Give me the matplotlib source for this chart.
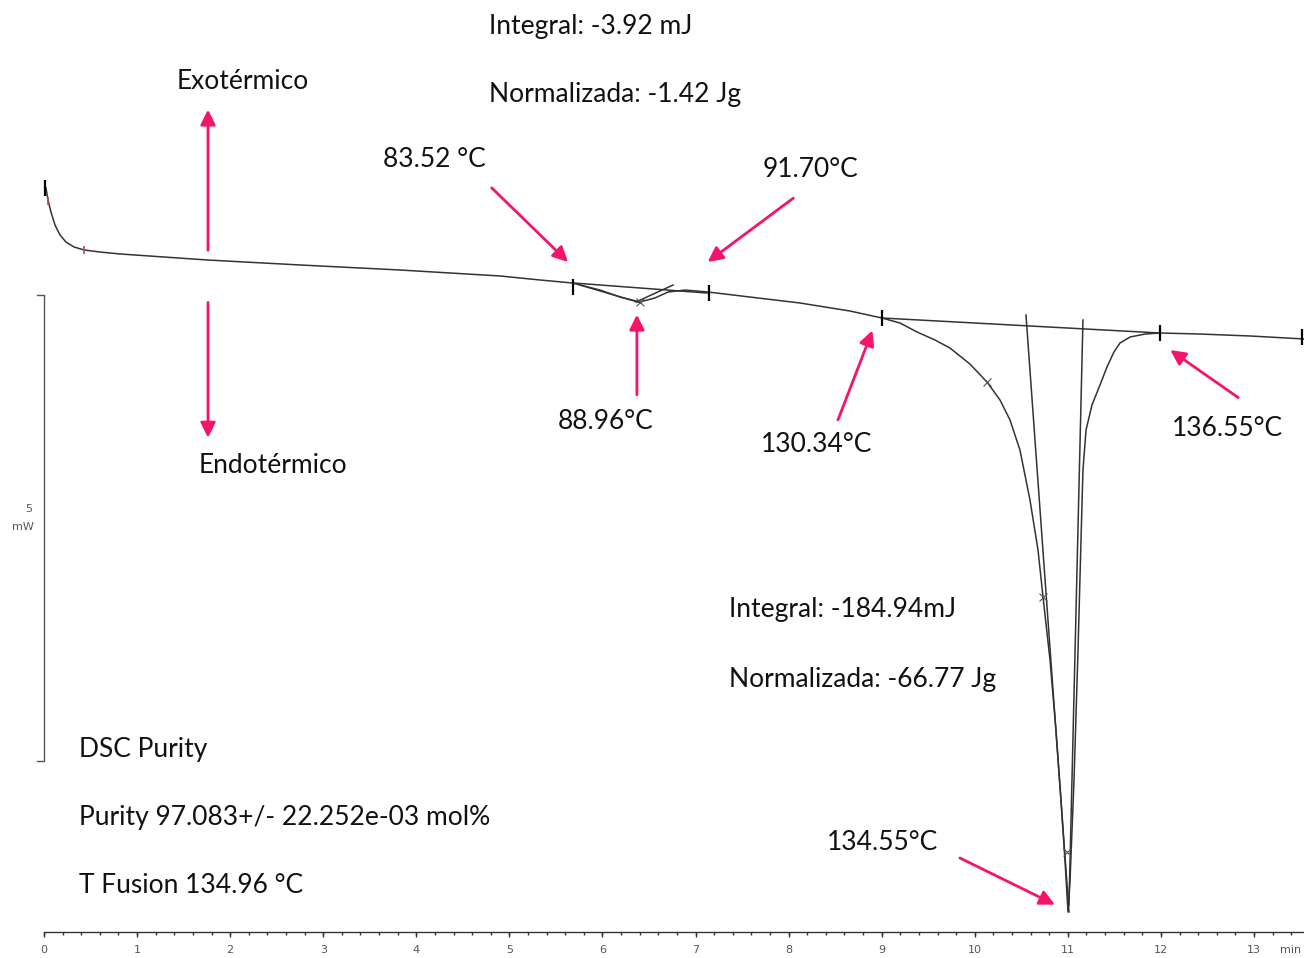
import matplotlib
matplotlib.use("Agg")
import matplotlib.pyplot as plt
import numpy as np

# DSC curve, time (min) vs heat flow (mW, arbitrary zero)
t_min = [0.021, 0.043, 0.075, 0.118, 0.172, 0.236, 0.322, 0.430, 0.602, 0.817,
         1.762, 2.750, 3.825, 4.899, 5.328, 5.673, 5.974, 6.188, 6.403, 6.564,
         6.704, 6.887, 7.134, 7.585, 8.122, 8.659, 9.003, 9.197, 9.379, 9.572,
         9.733, 9.948, 10.131, 10.271, 10.378, 10.485, 10.593, 10.679, 10.733, 10.808,
         10.872, 10.926, 10.969, 11.001, 11.023, 11.066, 11.109, 11.141, 11.162, 11.195,
         11.259, 11.345, 11.420, 11.495, 11.560, 11.668, 11.829, 11.990, 12.419, 12.957,
         13.537]
heat_mw = [0.719, 0.590, 0.461, 0.322, 0.215, 0.139, 0.086, 0.054, 0.032, 0.011,
           -0.054, -0.107, -0.161, -0.225, -0.268, -0.300, -0.376, -0.451, -0.504, -0.461,
           -0.397, -0.376, -0.397, -0.451, -0.515, -0.601, -0.676, -0.730, -0.826, -0.912,
           -0.998, -1.170, -1.363, -1.556, -1.770, -2.092, -2.629, -3.165, -3.670, -4.345,
           -5.097, -5.848, -6.491, -7.049, -6.706, -5.633, -4.238, -3.058, -2.307, -1.878,
           -1.609, -1.395, -1.202, -1.041, -0.944, -0.880, -0.848, -0.837, -0.848, -0.869,
           -0.901]

# construction lines (baselines / tangents)
lines = [
    ([5.683, 7.123], [-0.300, -0.408]),
    ([5.758, 6.414], [-0.322, -0.515]),
    ([6.360, 6.758], [-0.504, -0.322]),
    ([9.003, 11.990], [-0.676, -0.837]),
    ([10.550, 11.012], [-0.644, -7.049]),
    ([11.162, 11.012], [-0.697, -6.974]),
]
limit_t = [0.015, 5.683, 7.145, 9.003, 11.990, 13.515]
limit_y = [0.72, -0.343, -0.408, -0.676, -0.837, -0.880]
cross_t = [6.403, 10.131, 10.733, 10.991]
cross_y = [-0.504, -1.363, -3.670, -6.406]

# annotations: text, text pos, arrow tail, arrow head
pink = "#f5136b"
labels = [
    ("83.52 °C", (4.19, 1.02), (4.81, 0.72), (5.63, -0.075)),
    ("91.70°C", (8.23, 0.92), (8.05, 0.61), (7.13, -0.075)),
    ("88.96°C", (6.03, -1.79), (6.37, -1.50), (6.37, -0.64)),
    ("130.34°C", (8.30, -2.03), (8.53, -1.77), (8.90, -0.81)),
    ("136.55°C", (12.71, -1.86), (12.83, -1.53), (12.10, -1.02)),
    ("134.55°C", (9.01, -6.30), (9.84, -6.47), (10.86, -6.97)),
]
side_arrows = [
    ("Exotérmico", (2.13, 1.86), (1.762, 0.05), (1.762, 1.56)),
    ("Endotérmico", (2.46, -2.26), (1.762, -0.51), (1.762, -1.96)),
]
notes = [
    ("Integral: -3.92 mJ", (4.78, 2.45)),
    ("Normalizada: -1.42 Jg", (4.78, 1.72)),
    ("Integral: -184.94mJ", (7.36, -3.80)),
    ("Normalizada: -66.77 Jg", (7.36, -4.55)),
    ("DSC Purity", (0.376, -5.31)),
    ("Purity 97.083+/- 22.252e-03 mol%", (0.376, -6.04)),
    ("T Fusion 134.96 °C", (0.376, -6.77)),
]

fig = plt.figure(figsize=(13.04, 9.58), dpi=100)
ax = fig.add_axes([0, 0, 1, 1])
ax.set_xlim(-44 / 93.08, 1260 / 93.08)
ax.set_ylim((255 - 958) / 93.2, 255 / 93.2)
ax.axis("off")

ax.plot(t_min, heat_mw, color="#333333", lw=1.1)
for lx, ly in lines:
    ax.plot(lx, ly, color="#333333", lw=1.1)
ax.plot(limit_t, limit_y, ls="none", marker="|", ms=11, mew=1.6, color="black")
ax.plot(cross_t, cross_y, ls="none", marker="x", ms=6, mew=0.8, color="#555555")
ax.plot([0.04, 0.43], [0.58, 0.05], ls="none", marker="|", ms=6, mew=1.2, color="#b05050")

# time axis at the bottom
y_ax = -7.264
ax.plot([0, 13.537], [y_ax, y_ax], color="#333333", lw=1)
minor = np.arange(0, 13.5, 0.2)
ax.vlines(minor, y_ax - 0.035, y_ax, color="#333333", lw=1)
major = np.arange(0, 14)
ax.vlines(major, y_ax - 0.055, y_ax, color="#333333", lw=1)
for m in major:
    ax.text(m, -7.46, str(m), ha="center", va="center", fontsize=8, color="#555555")
ax.text(13.39, -7.46, "min", ha="center", va="center", fontsize=8, color="#555555")

# 5 mW scale bar
ax.plot([-0.075, 0, 0, -0.075], [-0.429, -0.429, -5.429, -5.429], color="#555555", lw=1)
ax.text(-0.13, -2.73, "5", ha="right", va="center", fontsize=8, color="#555555")
ax.text(-0.23, -2.92, "mW", ha="center", va="center", fontsize=8, color="#555555")

font = dict(family=["Lato", "DejaVu Sans"], fontsize=19, color="#111111")
for txt, (tx, ty), tail, head in labels + side_arrows:
    ax.text(tx, ty, txt, ha="center", va="center", **font)
    ax.annotate("", xy=head, xytext=tail,
                arrowprops=dict(arrowstyle="-|>,head_length=0.9,head_width=0.45",
                                color=pink, lw=2, shrinkA=0, shrinkB=0))
for txt, (tx, ty) in notes:
    ax.text(tx, ty, txt, ha="left", va="center", **font)

fig.savefig("out.png", dpi=100)
